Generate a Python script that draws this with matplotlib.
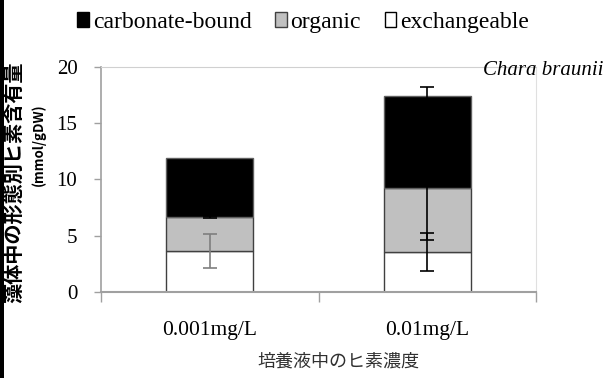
import matplotlib.pyplot as plt
import numpy as np
from matplotlib.patches import Patch, Rectangle

# 培養液のヒ素濃度ごとの、形態別ヒ素含有量 (mmol/gDW)
categories = ['0.001mg/L', '0.01mg/L']
exchangeable = [3.64, 3.56]
organic = [3.03, 5.68]
carbonate = [5.24, 8.18]
# 標準偏差
exchangeable_err = [1.5, 1.7]
organic_err = [0.08, 4.6]
carbonate_err = [0.0, 0.8]
y_ticks = [0, 5, 10, 15, 20]

serif = 'Liberation Serif'
jp = 'Noto Sans CJK JP'

fig = plt.figure(figsize=(6.11, 3.78), dpi=100)
ax = fig.add_axes([0.1653, 0.2275, 0.712, 0.5953])

x = np.arange(len(categories))
width = 0.40
ex = np.array(exchangeable)
org = np.array(organic)
carb = np.array(carbonate)

ax.bar(x, ex, width, color='white', edgecolor='#404040', linewidth=1, zorder=2)
ax.bar(x, org, width, bottom=ex, color='#c0c0c0', edgecolor='#404040', linewidth=1, zorder=2)
ax.bar(x, carb, width, bottom=ex + org, color='black', edgecolor='#606060', linewidth=1, zorder=2)

# エラーバー (低濃度側は灰色で描かれている)
ex_colors = ['#7f7f7f', 'black']
for i in range(len(categories)):
    ax.errorbar(x[i], ex[i], yerr=exchangeable_err[i], fmt='none',
                ecolor=ex_colors[i], elinewidth=1.2, capsize=5, capthick=1.2, zorder=4)
    if organic_err[i] > 0:
        ax.errorbar(x[i], ex[i] + org[i], yerr=organic_err[i], fmt='none',
                    ecolor='black', elinewidth=1.2, capsize=5, capthick=1.2, zorder=3)
    if carbonate_err[i] > 0:
        ax.errorbar(x[i], ex[i] + org[i] + carb[i], yerr=carbonate_err[i], fmt='none',
                    ecolor='black', elinewidth=1.2, capsize=5, capthick=1.2, zorder=3)

ax.set_xlim(-0.5, 1.5)
ax.set_ylim(0, 20)
ax.set_yticks(y_ticks)
ax.set_yticklabels([str(v) for v in y_ticks], fontfamily=serif, fontsize=15)
ax.tick_params(axis='y', direction='out', length=5, width=1, color='#a0a0a0', pad=12)

ax.set_xticks(x)
ax.set_xticklabels(categories, fontfamily=serif, fontsize=15.5)
ax.tick_params(axis='x', which='major', length=0, pad=21)
ax.set_xticks([-0.5, 0.5, 1.5], minor=True)
ax.tick_params(axis='x', which='minor', direction='out', length=7, width=1, color='#a0a0a0')

ax.spines['left'].set_color('#a0a0a0')
ax.spines['bottom'].set_color('#a0a0a0')
ax.spines['left'].set_linewidth(1.2)
ax.spines['bottom'].set_linewidth(1.5)
ax.spines['top'].set_color('#d0d0d0')
ax.spines['right'].set_color('#e0e0e0')

# 凡例
handles = [
    Patch(facecolor='black', edgecolor='black', label='carbonate-bound'),
    Patch(facecolor='#c0c0c0', edgecolor='#404040', label='organic'),
    Patch(facecolor='white', edgecolor='black', label='exchangeable'),
]
fig.legend(handles=handles, loc='center', bbox_to_anchor=(0.496, 0.94), ncol=3,
           frameon=False, prop={'family': serif, 'size': 17},
           handlelength=0.5, handleheight=0.6, handletextpad=0.15,
           columnspacing=1.0, borderpad=0)

fig.text(603 / 611, 1 - 75 / 378, 'Chara braunii', fontfamily=serif, fontsize=15,
         style='italic', ha='right', va='baseline')

# 軸ラベル
fig.text(14 / 611, 1 - 182 / 378, '藻体中の形態別ヒ素含有量', fontfamily=jp, fontsize=14.5,
         fontweight='bold', rotation=90, ha='center', va='center')
fig.text(39 / 611, 1 - 145 / 378, '(mmol/gDW)', fontfamily=jp, fontsize=9.5,
         fontweight='bold', rotation=90, ha='center', va='center')
fig.text(338 / 611, 1 - 362 / 378, '培養液中のヒ素濃度', fontfamily=jp, fontsize=13,
         color='#303030', ha='center', va='center')

# 左端の黒い枠線
fig.patches.append(Rectangle((0, 0), 4 / 611, 1, transform=fig.transFigure,
                             facecolor='black', edgecolor='none'))

fig.savefig('out.png', dpi=100)
